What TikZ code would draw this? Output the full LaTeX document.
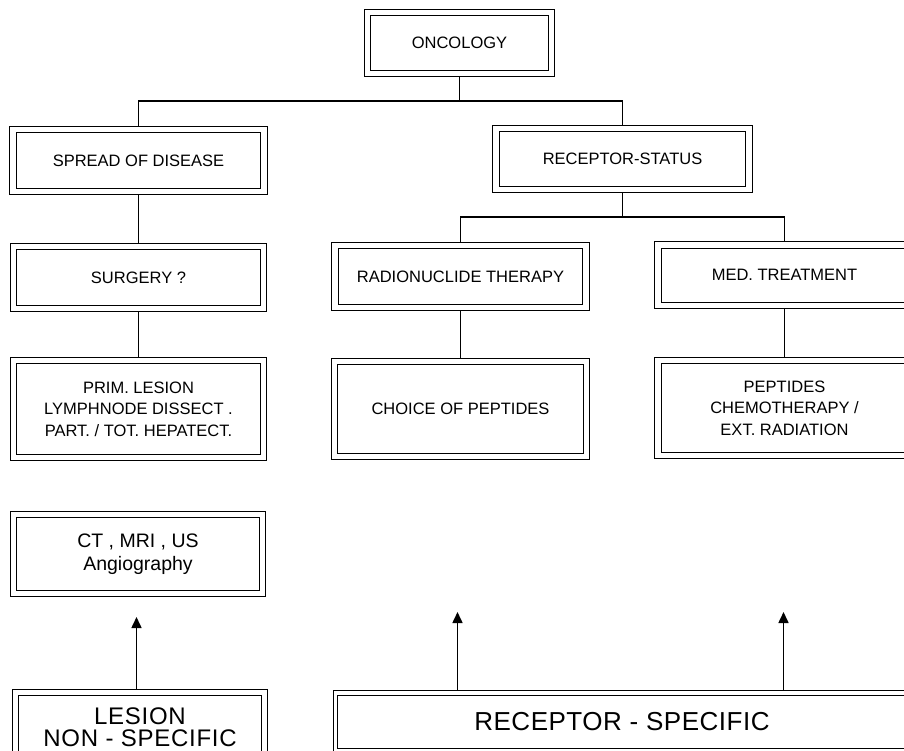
\documentclass[tikz,border=0pt]{standalone}
\usepackage{fontspec}
\setmainfont{Liberation Sans}
\usetikzlibrary{arrows.meta}
\newcommand\fsSmall{\fontsize{16.5}{21.5}\selectfont}
\newcommand\fsMid{\fontsize{19.5}{23}\selectfont}
\newcommand\fsBig{\fontsize{24}{22}\selectfont\addfontfeatures{LetterSpace=3}}
\newcommand\fsHuge{\fontsize{26}{26}\selectfont\addfontfeatures{LetterSpace=2}}
\begin{document}
\begin{tikzpicture}[x=1pt,y=-1pt,
  box/.style={draw, double=white, double distance=5.5pt, line width=1pt,
    outer sep=3.75pt, inner sep=0pt, align=center, font=\fsSmall},
  conn/.style={line width=1.1pt},
  uparrow/.style={line width=1.6pt, -{Triangle[width=10pt,length=11pt]}}]
\useasboundingbox (0,0) rectangle (904,750);
\clip (0,0) rectangle (904,750);
% top
\node[box, minimum width=184pt, minimum height=61pt] (onc) at (459.5,43) {ONCOLOGY};
% left column
\node[box, minimum width=251pt, minimum height=62pt] (spread) at (138.5,160.5) {SPREAD OF DISEASE};
\node[box, minimum width=250pt, minimum height=62pt] (surg) at (138.5,277.5) {SURGERY ?};
\node[box, minimum width=250pt, minimum height=97pt] (prim) at (138.5,409)
  {PRIM. LESION\\LYMPHNODE DISSECT .\\PART. / TOT. HEPATECT.};
\node[box, minimum width=249pt, minimum height=79pt, font=\fsMid] (ct) at (138,554)
  {CT , MRI , US\\Angiography};
\node[box, minimum width=249pt, minimum height=70pt, font=\fsBig] (lesion) at (140,727.5)
  {LESION\\NON - SPECIFIC};
% receptor column
\node[box, minimum width=253pt, minimum height=61pt] (rstat) at (622.5,159) {RECEPTOR-STATUS};
\node[box, minimum width=251pt, minimum height=62pt] (radio) at (460.5,276.5) {RADIONUCLIDE THERAPY};
\node[box, minimum width=252pt, minimum height=95pt] (choice) at (460.5,409) {CHOICE OF PEPTIDES};
\node[box, minimum width=253pt, minimum height=60.5pt] (med) at (784.5,275.25) {MED. TREATMENT};
\node[box, minimum width=253pt, minimum height=95pt] (pept) at (784.5,408)
  {PEPTIDES\\CHEMOTHERAPY /\\EXT. RADIATION};
\node[box, double distance=3.5pt, outer sep=2.75pt, minimum width=573pt, minimum height=58pt, font=\fsHuge] (rspec) at (622,722)
  {RECEPTOR - SPECIFIC};
% branch points
\coordinate (b1) at (459.5,101);
\coordinate (b2) at (622.5,217);
\coordinate (a1) at (136.5,617);
\coordinate (a2) at (457.5,612);
\coordinate (a3) at (783.5,612);
% connectors
\draw[conn] (onc.south) -- (b1);
\draw[conn] (spread.north) |- (b1) -| (rstat.north);
\draw[conn] (spread.south) -- (surg.north);
\draw[conn] (surg.south) -- (prim.north);
\draw[conn] (rstat.south) -- (b2);
\draw[conn] (radio.north) |- (b2) -| (med.north);
\draw[conn] (radio.south) -- (choice.north);
\draw[conn] (med.south) -- (pept.north);
% arrows
\draw[uparrow] (lesion.north -| a1) -- (a1);
\draw[uparrow] (rspec.north -| a2) -- (a2);
\draw[uparrow] (rspec.north -| a3) -- (a3);
\end{tikzpicture}
\end{document}
